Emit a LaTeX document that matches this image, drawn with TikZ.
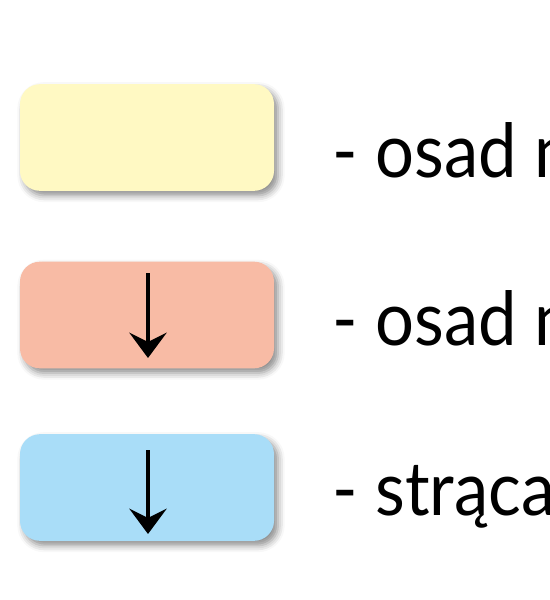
\documentclass[tikz,border=0pt]{standalone}
\usepackage{fontspec}
\setmainfont{Lato}[FakeStretch=0.92]
\usepackage{tikz}
\usetikzlibrary{positioning,arrows.meta,shadows.blur}

\definecolor{osadyellow}{HTML}{FFF9C3}
\definecolor{osadsalmon}{HTML}{F8BBA5}
\definecolor{osadblue}{HTML}{A9DDF8}

\begin{document}
\begin{tikzpicture}[x=0.75pt,y=-0.75pt,
	box/.style={rectangle,rounded corners=15pt,minimum width=190.5pt,minimum height=80pt,
		blur shadow={shadow xshift=3pt,shadow yshift=-3.5pt,shadow blur radius=5pt,shadow opacity=45}},
	legend/.style={anchor=base west,inner sep=0pt,font=\fontsize{56}{60}\selectfont},
	sink/.style={line width=3pt,-{Stealth[length=19pt,width=28pt,inset=7pt]}}]

			\path[use as bounding box,clip] (0,0) rectangle (550,600);

			%boxes
			\node [box,fill=osadyellow] (b1) at (147,137.5) {};
			\node [box,fill=osadsalmon] (b2) at (147,315) {};
			\node [box,fill=osadblue] (b3) at (147,487.5) {};

			%labels
			\node [legend] (t1) at (332,177) {- osad n};
			\node [legend] (t2) at (332,345) {- osad n};
			\node [legend] (t3) at (332,515) {- strąca};

			%arrows
			\coordinate (a2) at (148,273);
			\coordinate (e2) at (148,358);
			\coordinate (a3) at (148,450);
			\coordinate (e3) at (148,534);
			\draw [sink] (a2) -- (e2);
			\draw [sink] (a3) -- (e3);
		\end{tikzpicture}
\end{document}
